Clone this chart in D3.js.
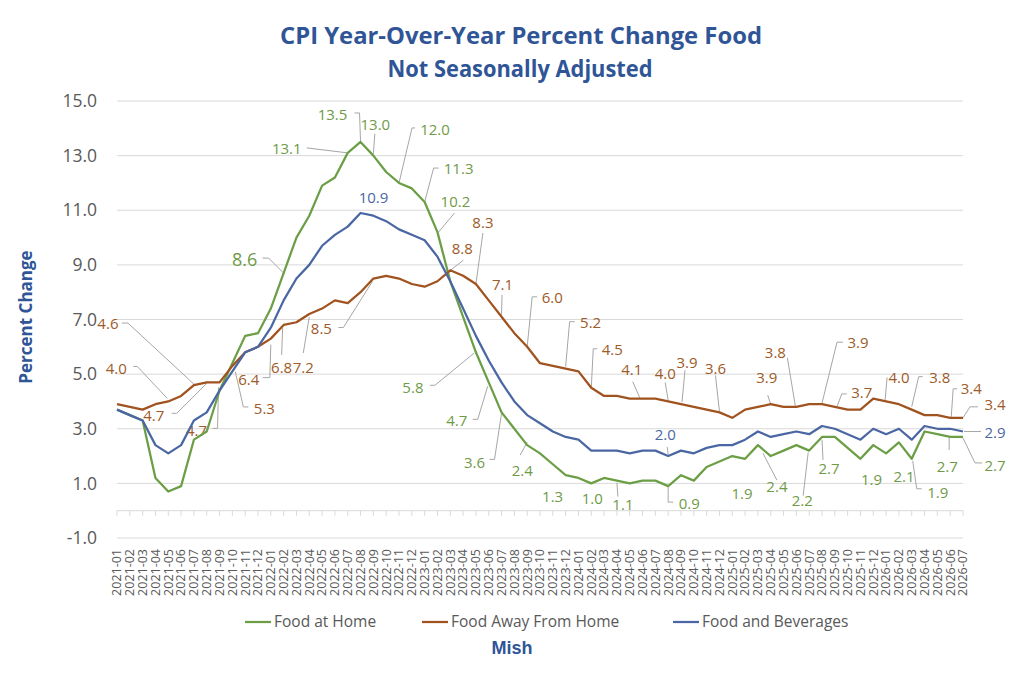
<!DOCTYPE html>
<html>
<head>
<meta charset="utf-8">
<script src="https://cdn.jsdelivr.net/npm/d3@7"></script>
<style>
  body { margin: 0; background: #fff; }
  svg { display: block; }
</style>
</head>
<body>
<div id="chart"></div>
<script>
// ---- data ----
const months = [];
for (let yr = 2021; yr <= 2026; yr++) {
    for (let m = 1; m <= 12; m++) {
        if (yr === 2026 && m > 7) break;
        months.push(yr + "-" + String(m).padStart(2, "0"));
    }
}

const foodAtHome = [
    3.7, 3.5, 3.3, 1.2, 0.7, 0.9, 2.6, 2.9, 4.4, 5.4, 6.4, 6.5,
    7.4, 8.7, 10.0, 10.8, 11.9, 12.2, 13.1, 13.5, 13.0, 12.4, 12.0, 11.8,
    11.3, 10.2, 8.4, 7.1, 5.8, 4.7, 3.6, 3.0, 2.4, 2.1, 1.7, 1.3,
    1.2, 1.0, 1.2, 1.1, 1.0, 1.1, 1.1, 0.9, 1.3, 1.1, 1.6, 1.8,
    2.0, 1.9, 2.4, 2.0, 2.2, 2.4, 2.2, 2.7, 2.7, 2.3, 1.9, 2.4,
    2.1, 2.5, 1.9, 2.9, 2.8, 2.7, 2.7
];

const foodAway = [
    3.9, 3.8, 3.7, 3.9, 4.0, 4.2, 4.6, 4.7, 4.7, 5.3, 5.8, 6.0,
    6.3, 6.8, 6.9, 7.2, 7.4, 7.7, 7.6, 8.0, 8.5, 8.6, 8.5, 8.3,
    8.2, 8.4, 8.8, 8.6, 8.3, 7.7, 7.1, 6.5, 6.0, 5.4, 5.3, 5.2,
    5.1, 4.5, 4.2, 4.2, 4.1, 4.1, 4.1, 4.0, 3.9, 3.8, 3.7, 3.6,
    3.4, 3.7, 3.8, 3.9, 3.8, 3.8, 3.9, 3.9, 3.8, 3.7, 3.7, 4.1,
    4.0, 3.9, 3.7, 3.5, 3.5, 3.4, 3.4
];

const foodBev = [
    3.7, 3.5, 3.3, 2.4, 2.1, 2.4, 3.3, 3.6, 4.4, 5.1, 5.8, 6.0,
    6.7, 7.7, 8.5, 9.0, 9.7, 10.1, 10.4, 10.9, 10.8, 10.6, 10.3, 10.1,
    9.9, 9.3, 8.4, 7.4, 6.4, 5.5, 4.7, 4.0, 3.5, 3.2, 2.9, 2.7,
    2.6, 2.2, 2.2, 2.2, 2.1, 2.2, 2.2, 2.0, 2.2, 2.1, 2.3, 2.4,
    2.4, 2.6, 2.9, 2.7, 2.8, 2.9, 2.8, 3.1, 3.0, 2.8, 2.6, 3.0,
    2.8, 3.0, 2.6, 3.1, 3.0, 3.0, 2.9
];

const seriesNames = ["Food at Home", "Food Away From Home", "Food and Beverages"];
const yTicks = [-1, 1, 3, 5, 7, 9, 11, 13, 15];

(function chart() {

    const WIDTH = 1024;
    const HEIGHT = 674;
    const GREY = "#595959";
    const GRID = "#d9d9d9";
    const FONT = "'Open Sans', 'Noto Sans', sans-serif";

    const series = [
        { key: "home", name: seriesNames[0], values: foodAtHome, color: "#6b9e45", text: "#6f9a48" },
        { key: "away", name: seriesNames[1], values: foodAway, color: "#a0521f", text: "#9e5a28" },
        { key: "bev",  name: seriesNames[2], values: foodBev,  color: "#4a67a3", text: "#4b66a3" }
    ];
    const byKey = {};
    series.forEach(s => byKey[s.key] = s);

    const x = d3.scalePoint().domain(months).range([117, 963]);
    const y = d3.scaleLinear().domain([-1, 15]).range([538, 101]);

    const svg = d3.select("#chart").append("svg")
        .attr("width", WIDTH)
        .attr("height", HEIGHT)
        .style("font-family", FONT);

    svg.append("rect").attr("width", WIDTH).attr("height", HEIGHT).attr("fill", "#fff");

    // titles
    svg.append("text")
        .attr("x", 521).attr("y", 44)
        .attr("text-anchor", "middle")
        .attr("fill", "#2f5597")
        .attr("font-weight", "bold")
        .attr("font-size", 24)
        .attr("textLength", 482)
        .attr("lengthAdjust", "spacingAndGlyphs")
        .text("CPI Year-Over-Year Percent Change Food");

    svg.append("text")
        .attr("x", 520).attr("y", 77)
        .attr("text-anchor", "middle")
        .attr("fill", "#2f5597")
        .attr("font-weight", "bold")
        .attr("font-size", 24)
        .attr("textLength", 265)
        .attr("lengthAdjust", "spacingAndGlyphs")
        .text("Not Seasonally Adjusted");

    // gridlines + y labels
    svg.append("g").selectAll("line").data(yTicks).join("line")
        .attr("x1", 117).attr("x2", 963)
        .attr("y1", d => y(d)).attr("y2", d => y(d))
        .attr("stroke", GRID).attr("stroke-width", 1);

    svg.append("g").selectAll("text").data(yTicks).join("text")
        .attr("x", 97).attr("y", d => y(d))
        .attr("dy", "0.35em")
        .attr("text-anchor", "end")
        .attr("fill", GREY)
        .attr("font-size", 17.5)
        .text(d => d.toFixed(1));

    // category axis crossing at zero
    const axisG = svg.append("g");
    axisG.append("line")
        .attr("x1", 117).attr("x2", 963)
        .attr("y1", y(0)).attr("y2", y(0))
        .attr("stroke", GRID);
    axisG.selectAll("line.tick").data(months).join("line")
        .attr("class", "tick")
        .attr("x1", d => x(d)).attr("x2", d => x(d))
        .attr("y1", y(0)).attr("y2", y(0) + 5)
        .attr("stroke", GRID);

    svg.append("g").selectAll("text").data(months).join("text")
        .attr("transform", d => `translate(${x(d)},549) rotate(-90)`)
        .attr("dy", "0.35em")
        .attr("text-anchor", "end")
        .attr("fill", GREY)
        .attr("font-size", 12.5)
        .text(d => d);

    // axis title
    svg.append("text")
        .attr("transform", "translate(26,317) rotate(-90)")
        .attr("dy", "0.35em")
        .attr("text-anchor", "middle")
        .attr("fill", "#2f5597")
        .attr("font-weight", "bold")
        .attr("font-size", 17)
        .text("Percent Change");

    // data callouts: series, month index, text, label offset, leader offsets
    const callouts = [
        ["home", 19, "13.5", -28, -27, [[-6, -29], [-1, -29], [0, 0]]],
        ["home", 20, "13.0", 2, -31, [[1.5, -22], [0, -2]]],
        ["home", 22, "12.0", 36, -53, [[16, -55], [13, -55], [0, 0]]],
        ["home", 18, "13.1", -61, -4, [[-41, -5], [0, 0]]],
        ["home", 13, "8.6", -39, -13, [[-21, -15], [-15, -15], [0, 0]], 18],
        ["home", 24, "11.3", 34, -33, [[14, -34], [9, -34], [0, 0]]],
        ["home", 25, "10.2", 18, -30, [[17, -19], [1, 0]]],
        ["home", 28, "5.8", -63, 35, [[-46, 33], [-41, 33], [-2, 1]]],
        ["home", 29, "4.7", -32, 38, [[-16, 37], [-11, 37], [-1, 4]]],
        ["home", 30, "3.6", -27, 50, [[-12, 47], [-7, 47], [0, 1]]],
        ["home", 32, "2.4", -5, 26, [[-7, 10], [0, -3]]],
        ["home", 35, "1.3", -13, 22, null],
        ["home", 37, "1.0", 1, 15, null],
        ["home", 39, "1.1", 6, 24, [[1, 16], [0, 2]]],
        ["home", 43, "0.9", 21, 18, [[5, 16], [0, 16], [0, 1]]],
        ["home", 49, "1.9", -3, 35, null],
        ["home", 50, "2.4", 19, 42, [[19, 35], [5, 8]]],
        ["home", 54, "2.2", -7, 50, [[-6, 45], [-1, 2]]],
        ["home", 55, "2.7", 7, 32, [[1, 23], [0, 3]]],
        ["home", 58, "1.9", 11, 21, null],
        ["home", 60, "2.1", 18, 23, null],
        ["home", 62, "1.9", 26, 34, [[10, 30], [5, 30], [1, 2]]],
        ["home", 65, "2.7", -3, 30, [[-1, 13], [-1, 1]]],
        ["home", 66, "2.7", 32, 29, [[19, 26], [12, 26], [0, 1]]],
        ["bev", 19, "10.9", 13, -15, null],
        ["bev", 43, "2.0", -3, -21, [[-1, -9], [0, -2]]],
        ["bev", 66, "2.9", 32, 1, [[18, 0], [1, 0]]],
        ["away", 6, "4.6", -86, -61, [[-72, -62], [-66, -62], [1, 0]]],
        ["away", 4, "4.0", -52, -33, [[-35, -35], [-31, -35], [-1, -3]]],
        ["away", 7, "4.7", -53, 33, [[-35, 31], [-30, 31], [0, 1]]],
        ["away", 8, "4.7", -23, 48, [[-7, 46], [-2, 46], [-1, 5]]],
        ["away", 9, "5.3", 32, 43, [[16, 41], [11, 41], [3, 6]]],
        ["away", 12, "6.4", -22, 41, [[-8, 39], [-1, 39], [0, 6]]],
        ["away", 13, "6.8", -2, 43, [[-2, 30], [-1, 3]]],
        ["away", 15, "7.2", -6, 54, [[-6, 39], [0, 3]]],
        ["away", 20, "8.5", -52, 50, [[-35, 49], [-30, 49], [-1, 3]]],
        ["away", 26, "8.8", 12, -22, [[13, -10], [0, 0]]],
        ["away", 28, "8.3", 7, -61, [[7, -51], [0, 0]]],
        ["away", 30, "7.1", 1, -32, [[0.5, -22], [0, -2]]],
        ["away", 32, "6.0", 25, -49, [[10, -50], [5, -50], [0, 0]]],
        ["away", 35, "5.2", 25, -46, [[9, -47], [4, -47], [0, -2]]],
        ["away", 37, "4.5", 21, -38, [[6, -39], [2, -39], [0, 0]]],
        ["away", 40, "4.1", 2, -29, [[3, -17], [10, -1]]],
        ["away", 43, "4.0", -3, -28, [[-3, -19], [0, -1]]],
        ["away", 44, "3.9", 6, -41, [[4, -34], [1, -2]]],
        ["away", 47, "3.6", -4, -44, [[-4, -37], [0, -1]]],
        ["away", 51, "3.9", -4, -26, [[-3, -9], [0, 0]]],
        ["away", 53, "3.8", -21, -54, [[-9, -49], [-1, -1]]],
        ["away", 55, "3.9", 36, -61, [[21, -62], [15, -62], [0, -1]]],
        ["away", 56, "3.7", 27, -14, [[12, -13], [7, -13], [2, 0]]],
        ["away", 60, "4.0", 13, -24, [[1, -24], [-1, -1]]],
        ["away", 62, "3.8", 28, -32, [[11, -33], [7, -33], [0, -3]]],
        ["away", 65, "3.4", 21, -29, [[7, -29], [3, -29], [1, 0]]],
        ["away", 66, "3.4", 32, -13, [[15, -11], [7, -11], [0, 0]]]
    ];

    const pt = c => {
        const s = byKey[c[0]];
        return [x(months[c[1]]), y(s.values[c[1]])];
    };

    const leaderG = svg.append("g");
    callouts.filter(c => c[5]).forEach(c => {
        const [px, py] = pt(c);
        leaderG.append("path")
            .attr("d", d3.line()(c[5].map(o => [px + o[0], py + o[1]])))
            .attr("fill", "none")
            .attr("stroke", "#a6a6a6")
            .attr("stroke-width", 1);
    });

    const labelG = svg.append("g");
    callouts.forEach(c => {
        const [px, py] = pt(c);
        labelG.append("text")
            .attr("x", px + c[3]).attr("y", py + c[4])
            .attr("dy", "0.35em")
            .attr("text-anchor", "middle")
            .attr("fill", byKey[c[0]].text)
            .attr("font-size", c[6] || 15)
            .text(c[2]);
    });

    // lines
    const line = d3.line()
        .x((d, i) => x(months[i]))
        .y(d => y(d));

    svg.append("g").selectAll("path").data(series).join("path")
        .attr("d", d => line(d.values))
        .attr("fill", "none")
        .attr("stroke", d => d.color)
        .attr("stroke-width", 2.25)
        .attr("stroke-linejoin", "round");

    // legend
    const legendX = [245, 422, 673];
    const legend = svg.append("g").selectAll("g").data(series).join("g")
        .attr("transform", (d, i) => `translate(${legendX[i]},622)`);
    legend.append("line")
        .attr("x1", 0).attr("x2", 26)
        .attr("stroke", d => d.color)
        .attr("stroke-width", 2.25);
    legend.append("text")
        .attr("x", 29)
        .attr("dy", "0.35em")
        .attr("fill", GREY)
        .attr("font-size", 15.5)
        .text(d => d.name);

    svg.append("text")
        .attr("x", 512).attr("y", 648)
        .attr("dy", "0.35em")
        .attr("text-anchor", "middle")
        .attr("fill", "#2f5597")
        .attr("font-weight", "bold")
        .attr("font-size", 18)
        .style("font-family", "'Liberation Sans', Arial, sans-serif")
        .text("Mish");

})();
</script>
</body>
</html>
